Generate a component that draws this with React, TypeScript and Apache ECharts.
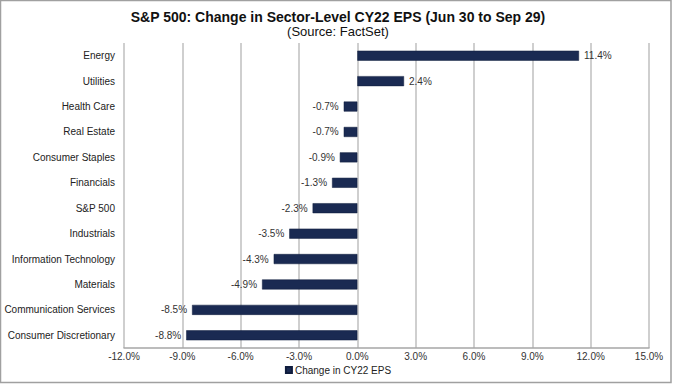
import React, { useEffect, useRef } from "react";
import * as echarts from "echarts";

const categories = [
  "Energy",
  "Utilities",
  "Health Care",
  "Real Estate",
  "Consumer Staples",
  "Financials",
  "S&P 500",
  "Industrials",
  "Information Technology",
  "Materials",
  "Communication Services",
  "Consumer Discretionary",
];
const values = [11.4, 2.4, -0.7, -0.7, -0.9, -1.3, -2.3, -3.5, -4.3, -4.9, -8.5, -8.8];
const seriesName = "Change in CY22 EPS";
const titleText = "S&P 500: Change in Sector-Level CY22 EPS (Jun 30 to Sep 29)";
const subtitleText = "(Source: FactSet)";

export default function App() {
  const ref = useRef<HTMLDivElement>(null);
  useEffect(() => {
    document.body.style.margin = "0";
    const chart = echarts.init(ref.current!, null, { renderer: "svg" });
    const font = "Arial, 'Liberation Sans', sans-serif";
    chart.setOption({
      animation: false,
      backgroundColor: "#ffffff",
      textStyle: { fontFamily: font },
      title: {
        text: titleText,
        subtext: subtitleText,
        left: "center",
        top: 5,
        itemGap: 1,
        textStyle: { fontFamily: font, fontSize: 14, fontWeight: "bold", color: "#111" },
        subtextStyle: { fontFamily: font, fontSize: 13, color: "#111" },
      },
      legend: {
        data: [seriesName],
        top: 365,
        padding: 0,
        left: "center",
        icon: "rect",
        itemWidth: 6,
        itemHeight: 6,
        itemGap: 4,
        textStyle: { fontFamily: font, fontSize: 10, color: "#222", padding: [0, 0, 0, -2] },
      },
      grid: { left: 124, right: 27, top: 43, bottom: 39, containLabel: false },
      xAxis: {
        type: "value",
        min: -12,
        max: 15,
        interval: 3,
        axisLine: { show: true, lineStyle: { color: "#a6a6a6", width: 1.5 } },
        axisTick: { show: false },
        splitLine: { show: true, lineStyle: { color: "#bfbfbf", width: 1.5 } },
        axisLabel: {
          formatter: (v: number) => v.toFixed(1) + "%",
          fontFamily: font,
          fontSize: 10,
          color: "#333",
          margin: 3,
        },
      },
      yAxis: {
        type: "category",
        data: categories,
        inverse: true,
        axisLine: { show: false },
        axisTick: { show: false },
        axisLabel: { fontFamily: font, fontSize: 10, color: "#222", margin: 9 },
      },
      series: [
        {
          name: seriesName,
          type: "bar",
          barWidth: 10,
          itemStyle: { color: "#1a2a52", borderColor: "#0f1c3d", borderWidth: 0.5 },
          data: values.map((v) => ({
            value: v,
            label: {
              show: true,
              position: v >= 0 ? "right" : "left",
              distance: 5,
              formatter: v.toFixed(1) + "%",
              fontFamily: font,
              fontSize: 10,
              color: "#333",
            },
          })),
        },
      ],
      graphic: [
        {
          type: "rect",
          shape: { x: 0.5, y: 0.5, width: 670.5, height: 382 },
          style: { fill: "none", stroke: "#a0a0a0", lineWidth: 1.5 },
          silent: true,
        },
      ],
    });
    return () => chart.dispose();
  }, []);
  return (
    <div
      ref={ref}
      style={{ position: "absolute", left: 0, top: 0, width: 676, height: 387 }}
    />
  );
}
